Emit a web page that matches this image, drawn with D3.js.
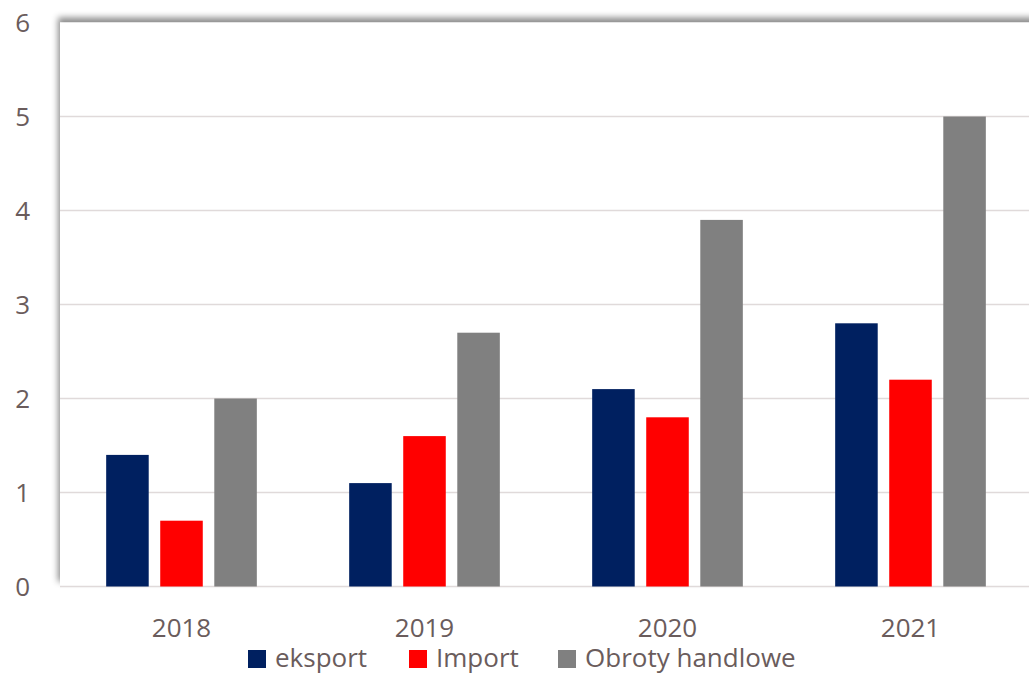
<!DOCTYPE html>
<html>
<head>
<meta charset="utf-8">
<script src="https://cdn.jsdelivr.net/npm/d3@7"></script>
<style>
  body { margin: 0; background: #fff; }
  svg text { font-family: "Open Sans", sans-serif; fill: #6a5c5c; }
</style>
</head>
<body>
<div id="chart"></div>
<script>
var years = ["2018", "2019", "2020", "2021"];
var seriesNames = ["eksport", "Import", "Obroty handlowe"];
var eksport = [1.4, 1.1, 2.1, 2.8];
var importVals = [0.7, 1.6, 1.8, 2.2];
var obroty = [2.0, 2.7, 3.9, 5.0];
var yTicks = [0, 1, 2, 3, 4, 5, 6];
var colors = ["#002060", "#ff0000", "#808080"];

var w = 1029;
var h = 675;
var plotLeft = 60, plotRight = 1032, plotTop = 22.5, plotBottom = 586.5;

var svg = d3.select("#chart")
    .append("svg")
    .attr("width", w)
    .attr("height", h);

var defs = svg.append("defs");
var f = defs.append("filter").attr("id", "shadow")
    .attr("x", "-5%").attr("y", "-5%").attr("width", "110%").attr("height", "110%");
f.append("feDropShadow")
    .attr("dx", -2).attr("dy", -5)
    .attr("stdDeviation", 3)
    .attr("flood-color", "#000")
    .attr("flood-opacity", 0.45);

// plot area with shadow on top/left
svg.append("rect")
    .attr("x", plotLeft).attr("y", plotTop)
    .attr("width", plotRight - plotLeft + 20).attr("height", plotBottom - plotTop)
    .attr("fill", "#fff")
    .attr("filter", "url(#shadow)");

var x0 = d3.scaleBand()
    .domain(years)
    .range([plotLeft, plotRight])
    .paddingInner(0.38)
    .paddingOuter(0.19);

var x1 = d3.scaleBand()
    .domain(seriesNames)
    .range([0, x0.bandwidth()])
    .paddingInner(0.213)
    .paddingOuter(0);

var y = d3.scaleLinear()
    .domain([0, 6])
    .range([plotBottom, plotTop]);

// gridlines
svg.append("g")
    .selectAll("line")
    .data(yTicks.filter(d => d < 6))
    .enter()
    .append("line")
    .attr("x1", plotLeft)
    .attr("x2", w)
    .attr("y1", d => y(d))
    .attr("y2", d => y(d))
    .attr("stroke", "#e0dada")
    .attr("stroke-width", 1.6);

// y axis labels
var yAxis = svg.append("g")
    .attr("transform", "translate(30,0)")
    .call(d3.axisLeft(y).tickValues(yTicks).tickFormat(d3.format("d")).tickSize(0).tickPadding(0));
yAxis.select(".domain").remove();
yAxis.selectAll("text")
    .style("font-family", "Open Sans, sans-serif")
    .style("font-size", "26px")
    .attr("fill", "#6a5c5c")
    .attr("dy", "0.36em");

// bars
var data = years.map((yr, i) => ({
    year: yr,
    values: [eksport[i], importVals[i], obroty[i]]
}));

var groups = svg.append("g")
    .selectAll("g")
    .data(data)
    .enter()
    .append("g")
    .attr("transform", d => "translate(" + x0(d.year) + ",0)");

groups.selectAll("rect")
    .data(d => d.values.map((v, j) => ({ name: seriesNames[j], value: v, color: colors[j] })))
    .enter()
    .append("rect")
    .attr("x", d => x1(d.name))
    .attr("y", d => y(d.value))
    .attr("width", x1.bandwidth())
    .attr("height", d => y(0) - y(d.value))
    .attr("fill", d => d.color);

// x axis labels
var xAxis = svg.append("g")
    .attr("transform", "translate(0," + plotBottom + ")")
    .call(d3.axisBottom(x0).tickSize(0).tickPadding(0));
xAxis.select(".domain").remove();
xAxis.selectAll("text")
    .style("font-family", "Open Sans, sans-serif")
    .style("font-size", "26px")
    .attr("fill", "#6a5c5c")
    .attr("y", 50)
    .attr("dy", 0);

// legend
var legendX = [248, 409, 558];
var legend = svg.append("g");
seriesNames.forEach(function (name, i) {
    legend.append("rect")
        .attr("x", legendX[i])
        .attr("y", 650)
        .attr("width", 18)
        .attr("height", 18)
        .attr("fill", colors[i]);
    legend.append("text")
        .attr("x", legendX[i] + 27)
        .attr("y", 667)
        .style("font-size", "26px")
        .text(name);
});
</script>
</body>
</html>
